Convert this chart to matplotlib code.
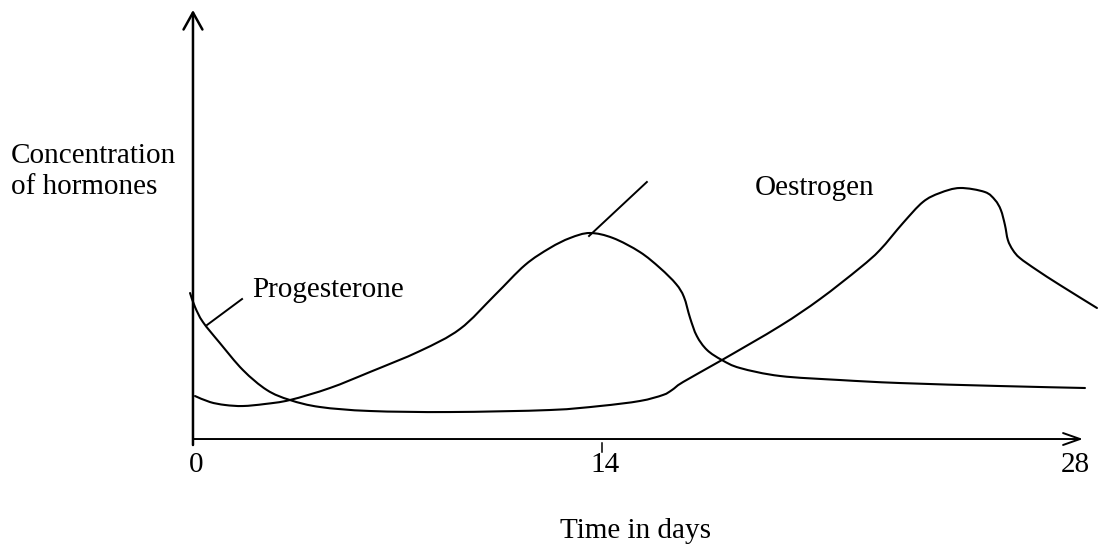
import matplotlib.pyplot as plt
import numpy as np
from matplotlib.path import Path
from matplotlib.patches import PathPatch

# Hand drawn hormone diagram, x in days, y in arbitrary concentration units
oestrogen_days = [0.07, 0.58, 1.10, 1.71, 2.46, 3.32, 4.69, 6.06, 7.77, 9.14,
                  10.34, 11.37, 12.22, 12.91, 13.59, 14.38, 15.30, 15.99, 16.54,
                  16.81, 17.02, 17.25, 17.60, 18.11, 18.73, 20.10, 22.15, 24.20,
                  27.63, 30.54]
oestrogen_conc = [10.02, 8.62, 7.93, 7.69, 8.16, 9.09, 11.89, 15.62, 20.51, 25.64,
                  33.57, 40.56, 44.52, 46.85, 48.02, 46.85, 43.59, 39.86, 36.13,
                  33.10, 28.21, 24.01, 20.75, 18.41, 16.55, 14.69, 13.75, 13.05,
                  12.35, 11.89]

progesterone_days = [-0.10, 0.07, 0.34, 0.92, 1.71, 2.53, 3.32, 4.35, 6.06, 8.80,
                     12.22, 13.93, 15.30, 16.09, 16.40, 16.78, 18.11, 20.10, 21.47,
                     22.83, 23.52, 24.31, 24.99, 25.57, 26.26, 27.11, 27.46, 27.66,
                     27.80, 27.90, 28.07, 28.31, 28.89, 29.68, 30.95]
progesterone_conc = [34.03, 30.77, 27.27, 22.38, 16.08, 11.42, 9.09, 7.46, 6.53, 6.29,
                     6.76, 7.69, 8.86, 10.26, 11.42, 13.29, 18.41, 26.34, 32.63,
                     39.86, 44.06, 50.35, 55.24, 57.34, 58.51, 57.58, 55.71, 53.38,
                     49.88, 46.39, 44.06, 42.19, 39.39, 35.90, 30.54]

# label pointer lines (start, end)
oestrogen_pointer_days = [13.56, 15.54]
oestrogen_pointer_conc = [47.32, 59.91]
progesterone_pointer_days = [0.48, 1.68]
progesterone_pointer_conc = [26.57, 32.63]

tick_labels = ["0", "14", "28"]
tick_pos = [0.1, 14.1, 30.2]

plt.rcParams['font.family'] = ['Liberation Serif', 'DejaVu Serif']
FS = 21


def smooth_path(xs, ys):
    # Catmull-Rom through the read points, drawn as cubic bezier segments
    p = np.column_stack([xs, ys])
    verts = [p[0]]
    codes = [Path.MOVETO]
    for i in range(len(p) - 1):
        p0 = p[i - 1] if i > 0 else p[i]
        p3 = p[i + 2] if i + 2 < len(p) else p[i + 1]
        c1 = p[i] + (p[i + 1] - p0) / 6
        c2 = p[i + 1] - (p3 - p[i]) / 6
        verts += [c1, c2, p[i + 1]]
        codes += [Path.CURVE4] * 3
    return Path(verts, codes)


fig = plt.figure(figsize=(10.99, 5.5), dpi=100)
ax = fig.add_axes([0, 0, 1, 1])
ax.set_xlim(-6.607, 31.02)
ax.set_ylim(-25.87, 102.33)
ax.axis('off')

# axes with open arrow heads
ax.annotate("", xy=(0, 100), xytext=(0, -1.4),
            arrowprops=dict(arrowstyle="->,head_length=1.22,head_width=0.68",
                            lw=1.8, color='black', mutation_scale=10,
                            shrinkA=0, shrinkB=0))
ax.annotate("", xy=(30.47, 0), xytext=(0, 0),
            arrowprops=dict(arrowstyle="->,head_length=1.22,head_width=0.43",
                            lw=1.4, color='black', mutation_scale=10,
                            shrinkA=0, shrinkB=0))
ax.plot([14, 14], [-0.9, -3.0], color='black', lw=1.1)

for xs, ys in [(oestrogen_days, oestrogen_conc),
               (progesterone_days, progesterone_conc)]:
    ax.add_patch(PathPatch(smooth_path(xs, ys), facecolor='none',
                           edgecolor='black', lw=1.5, capstyle='round'))

ax.plot(oestrogen_pointer_days, oestrogen_pointer_conc, color='black', lw=1.4)
ax.plot(progesterone_pointer_days, progesterone_pointer_conc, color='black', lw=1.4)

for pos, lab in zip(tick_pos, tick_labels):
    ax.text(pos, -7.6, lab, ha='center', va='baseline', fontsize=FS)


def ftext(px, py, s, ha='left'):
    # place text by pixel position of the reference picture
    fig.text(px / 1099, 1 - py / 550, s, ha=ha, va='baseline', fontsize=FS)


ftext(11, 163, "Concentration")
ftext(11, 194, "of hormones")
ftext(755, 195, "Oestrogen")
ftext(252, 297, "Progesterone")
ftext(635, 538, "Time in days", ha='center')

fig.savefig("out.png", dpi=100)
